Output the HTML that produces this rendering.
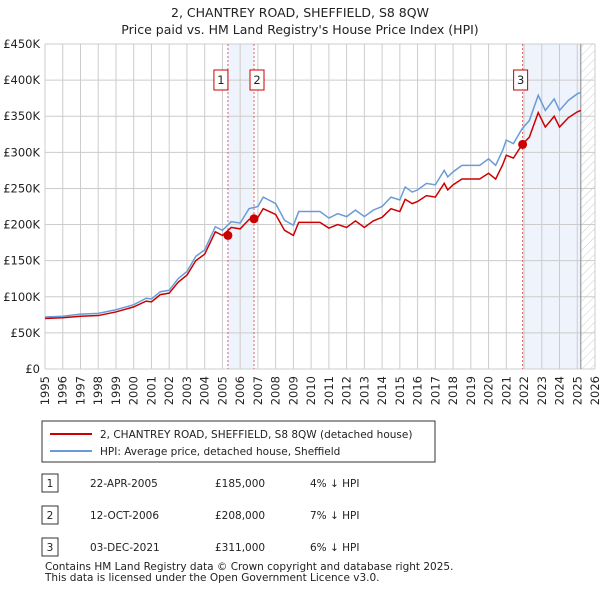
<!DOCTYPE html>
<html><head><meta charset="utf-8"><style>
body{margin:0;background:#fff;font-family:"DejaVu Sans","Liberation Sans",sans-serif;}
svg text{font-family:"DejaVu Sans","Liberation Sans",sans-serif;}
</style></head><body>
<svg id="c" width="600" height="590">
<text x="300" y="17" font-size="12.5" text-anchor="middle" fill="#222">2, CHANTREY ROAD, SHEFFIELD, S8 8QW</text>
<text x="300" y="34" font-size="12.5" text-anchor="middle" fill="#222">Price paid vs. HM Land Registry's House Price Index (HPI)</text>
<defs><pattern id="h" width="6" height="6" patternUnits="userSpaceOnUse" patternTransform="rotate(45)"><line x1="0" y1="0" x2="0" y2="6" stroke="#ccc" stroke-width="1"/></pattern></defs>
<g id="g"></g>
<rect x="42" y="421" width="393" height="41" fill="#fff" stroke="#333"/>
<line x1="50" y1="434" x2="92" y2="434" stroke="#cc0000" stroke-width="2"/>
<text x="100" y="438" font-size="10.5" fill="#222">2, CHANTREY ROAD, SHEFFIELD, S8 8QW (detached house)</text>
<line x1="50" y1="451" x2="92" y2="451" stroke="#6a9bd8" stroke-width="2"/>
<text x="100" y="455" font-size="10.5" fill="#222">HPI: Average price, detached house, Sheffield</text>
<g font-size="10.5" fill="#222">
<rect x="42" y="474" width="16" height="18" fill="#fff" stroke="#333"/><text x="50" y="487" text-anchor="middle">1</text>
<text x="90" y="487">22-APR-2005</text><text x="215" y="487">£185,000</text><text x="310" y="487">4% ↓ HPI</text>
<rect x="42" y="506" width="16" height="18" fill="#fff" stroke="#333"/><text x="50" y="519" text-anchor="middle">2</text>
<text x="90" y="519">12-OCT-2006</text><text x="215" y="519">£208,000</text><text x="310" y="519">7% ↓ HPI</text>
<rect x="42" y="538" width="16" height="18" fill="#fff" stroke="#333"/><text x="50" y="551" text-anchor="middle">3</text>
<text x="90" y="551">03-DEC-2021</text><text x="215" y="551">£311,000</text><text x="310" y="551">6% ↓ HPI</text>
<text x="45" y="570">Contains HM Land Registry data © Crown copyright and database right 2025.</text>
<text x="45" y="581">This data is licensed under the Open Government Licence v3.0.</text>
</g>
</svg>
<script>
const yTicks=[0,50,100,150,200,250,300,350,400,450];
const years=[1995,1996,1997,1998,1999,2000,2001,2002,2003,2004,2005,2006,2007,2008,2009,2010,2011,2012,2013,2014,2015,2016,2017,2018,2019,2020,2021,2022,2023,2024,2025,2026];
const hpiT=[1995,1996,1997,1998,1999,2000,2000.7,2001,2001.5,2002,2002.5,2003,2003.5,2004,2004.6,2005,2005.5,2006,2006.5,2007,2007.3,2008,2008.5,2009,2009.3,2010,2010.5,2011,2011.5,2012,2012.5,2013,2013.5,2014,2014.5,2015,2015.3,2015.7,2016,2016.5,2017,2017.5,2017.7,2018,2018.5,2019,2019.5,2020,2020.4,2020.8,2021,2021.4,2021.9,2022.3,2022.8,2023.2,2023.7,2024,2024.5,2025,2025.2];
const hpiV=[72,73,76,77,82,89,98,97,107,109,125,135,156,165,197,192,204,202,222,225,238,229,206,199,218,218,218,209,215,211,220,211,220,225,238,234,252,245,248,257,255,275,266,273,282,282,282,291,282,303,317,312,333,344,379,358,374,358,372,381,383];
const paidV=[70,71,73,74,79,86,94,93,103,105,120,130,150,159,190,185,196,194,207,210,222,214,192,185,203,203,203,195,200,196,205,196,205,210,222,218,235,229,232,240,238,257,248,255,263,263,263,271,263,283,296,292,311,321,355,335,350,335,348,356,358];
const sales=[[2005.31,185,"1"],[2006.78,208,"2"],[2021.92,311,"3"]];
const X=t=>45+(t-1995)*(550/31), Y=v=>369-v*(325/450);
const g=document.getElementById('g');const ns='http://www.w3.org/2000/svg';
function mk(tag,a){const e=document.createElementNS(ns,tag);for(const k in a)e.setAttribute(k,a[k]);g.appendChild(e);return e;}
let e;
e=mk('rect',{x:X(sales[0][0]),y:44,width:X(sales[1][0])-X(sales[0][0]),height:325,fill:'#eef3fc'});


e=mk('rect',{x:X(sales[2][0]),y:44,width:X(2025.2)-X(sales[2][0]),height:325,fill:'#eef3fc'});


e=mk('rect',{x:X(2025.2),y:44,width:595-X(2025.2),height:325,fill:'url(#h)'});


yTicks.forEach(v=>{mk('line',{x1:45,x2:595,y1:Y(v),y2:Y(v),stroke:'#ccc'});
e=mk('text',{x:40,y:Y(v)+4,'font-size':11.5,'text-anchor':'end',fill:'#222'});e.textContent='£'+(v?v+'K':'0');

});
years.forEach(y=>{mk('line',{x1:X(y),x2:X(y),y1:44,y2:369,stroke:'#ccc'});
const tx=X(y)+4, ty=376;
e=mk('text',{x:tx,y:ty,'font-size':11.5,'text-anchor':'end',fill:'#222',transform:`rotate(-90 ${tx} ${ty})`});e.textContent=y;

});
mk('line',{x1:X(2025.2),x2:X(2025.2),y1:44,y2:369,stroke:'#888'});
sales.forEach(s=>{mk('line',{x1:X(s[0]),x2:X(s[0]),y1:44,y2:369,stroke:'#e06060','stroke-dasharray':'2,2'});});
function line(vals,col,name){e=mk('polyline',{points:hpiT.map((t,i)=>X(t)+','+Y(vals[i])).join(' '),fill:'none',stroke:col,'stroke-width':1.5});

}
line(hpiV,'#6a9bd8','hpi-line');line(paidV,'#cc0000','price-paid-line');
sales.forEach(s=>{e=mk('circle',{cx:X(s[0]),cy:Y(s[1]),r:4.5,fill:'#cc0000'});


const bx=X(s[0])-(s[2]=='3'?12:6)-(s[2]=='3'?-3:0)-(s[2]=='1'?8:0)+(s[2]=='2'?2:0);
e=mk('rect',{x:bx,y:70,width:14,height:20,fill:'#fff',stroke:'#cc0000'});


e=mk('text',{x:bx+7,y:84,'font-size':11.5,'text-anchor':'middle',fill:'#222'});e.textContent=s[2];

});
</script>
</body></html>
